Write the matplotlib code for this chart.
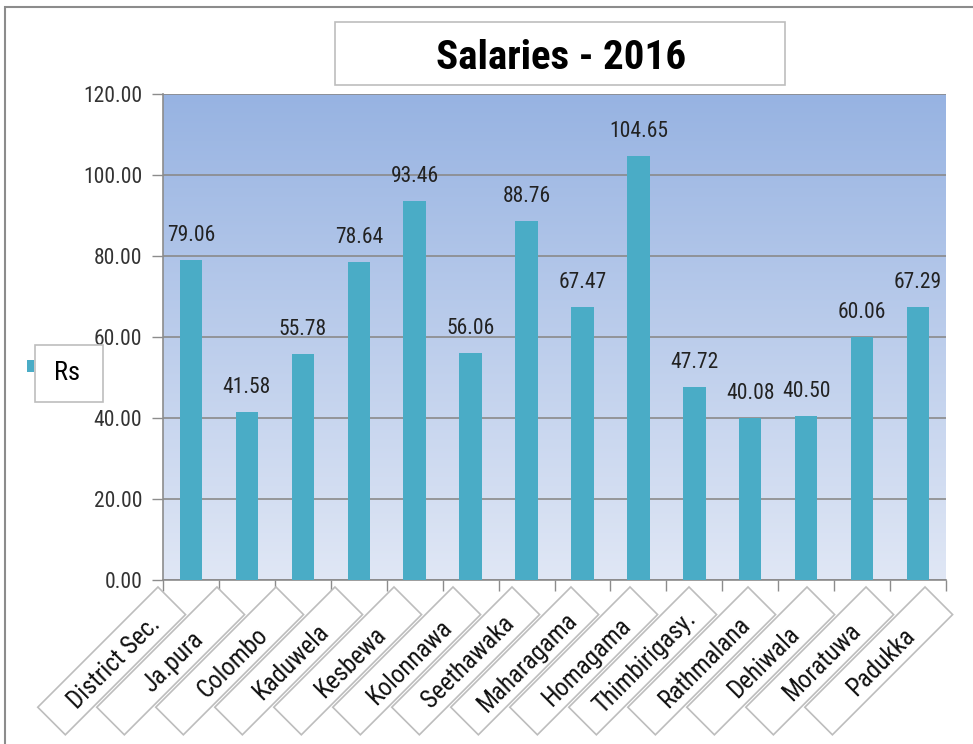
import matplotlib
matplotlib.use("Agg")
import matplotlib.pyplot as plt
import numpy as np
from matplotlib.patches import Rectangle
from matplotlib.transforms import Affine2D, IdentityTransform
from matplotlib.colors import LinearSegmentedColormap

categories = ["District Sec.", "Ja.pura", "Colombo", "Kaduwela", "Kesbewa",
              "Kolonnawa", "Seethawaka", "Maharagama", "Homagama",
              "Thimbirigasy.", "Rathmalana", "Dehiwala", "Moratuwa", "Padukka"]
values = [79.06, 41.58, 55.78, 78.64, 93.46, 56.06, 88.76, 67.47, 104.65,
          47.72, 40.08, 40.50, 60.06, 67.29]
series_name = "Rs"
title = "Salaries - 2016"
yticks = [0, 20, 40, 60, 80, 100, 120]

plt.rcParams["font.family"] = ["Roboto Condensed", "Liberation Sans", "DejaVu Sans"]

W, H = 973, 744
fig = plt.figure(figsize=(W / 100, H / 100), dpi=100)
fig.patch.set_facecolor("white")

# outer chart border (cut off at right and bottom)
fig.add_artist(Rectangle((5, -10), W + 20, H - 7 + 10, transform=IdentityTransform(),
                         fill=False, edgecolor="#8c8c8c", linewidth=1.5))

ax = fig.add_axes([163 / W, 1 - 580 / H, (946 - 163) / W, (580 - 94) / H])
ax.set_xlim(-0.5, len(categories) - 0.5)
ax.set_ylim(0, 120)

# gradient plot area background
cmap = LinearSegmentedColormap.from_list("bg", ["#e0e7f5", "#97b3e2"])
grad = np.linspace(0, 1, 256).reshape(-1, 1)
ax.imshow(grad, extent=[-0.5, len(categories) - 0.5, 0, 120], origin="lower",
          aspect="auto", cmap=cmap, zorder=0)

x = np.arange(len(categories))
ax.bar(x, values, width=0.4, color="#4aacc6", zorder=3)

for xi, v in zip(x, values):
    ax.annotate(f"{v:.2f}", (xi, v), xytext=(0, 14), textcoords="offset pixels",
                ha="center", va="bottom", fontsize=15.5, color="#222222", zorder=4)

ax.set_yticks(yticks)
ax.set_yticklabels([f"{t:.2f}" for t in yticks], fontsize=15.5, color="#333333")
ax.yaxis.grid(True, color="#8a8a8a", linewidth=1.2, zorder=1)
ax.set_axisbelow(False)
ax.tick_params(axis="y", length=8, width=1, color="#8c8c8c", pad=7)
ax.set_xticks(np.arange(len(categories) + 1) - 0.5)
ax.set_xticklabels([])
ax.tick_params(axis="x", length=8, width=1, color="#8c8c8c")
for s in ["top", "right"]:
    ax.spines[s].set_visible(False)
ax.spines["left"].set_color("#8c8c8c")
ax.spines["bottom"].set_color("#8c8c8c")
ax.spines["left"].set_linewidth(1.2)
ax.spines["bottom"].set_linewidth(1.2)

# rotated category label boxes
cx0 = ax.transData.transform((0, 0))[0]
cx1 = ax.transData.transform((1, 0))[0]
step = (cx1 - cx0) * 1.055
L, Hb = 170, 39
d = Hb / 2 * np.sqrt(0.5)
for i, lab in enumerate(categories):
    top_x = cx0 - 33 + step * i
    top_y = H - 587
    Ax, Ay = top_x + d, top_y - d
    tr = Affine2D().rotate_deg(45).translate(Ax, Ay)
    fig.add_artist(Rectangle((-L, -Hb / 2), L, Hb, transform=tr, facecolor="white",
                             edgecolor="#bdbdbd", linewidth=1.2, zorder=5 + i))
    px, py = tr.transform((-L / 2 + 1, -3))
    fig.text(px, py, lab, transform=IdentityTransform(), rotation=45,
             rotation_mode="anchor", ha="center", va="center", fontsize=18,
             color="#111111", zorder=5 + i + 0.5)

# title box
fig.add_artist(Rectangle((335, H - 85), 450, 63, transform=IdentityTransform(),
                         facecolor="white", edgecolor="#bdbdbd", linewidth=1.2))
fig.text(561 / W, 1 - 58 / H, title, ha="center", va="center", fontsize=29.5,
         fontweight="bold", color="black")

# legend
fig.add_artist(Rectangle((35, H - 402), 68, 57, transform=IdentityTransform(),
                         facecolor="white", edgecolor="#bdbdbd", linewidth=1.2))
fig.add_artist(Rectangle((27, H - 372), 7, 12, transform=IdentityTransform(),
                         facecolor="#4aacc6", edgecolor="none"))
fig.text(67 / W, 1 - 373 / H, series_name, ha="center", va="center", fontsize=19,
         color="black")

fig.savefig("out.png", dpi=100)
